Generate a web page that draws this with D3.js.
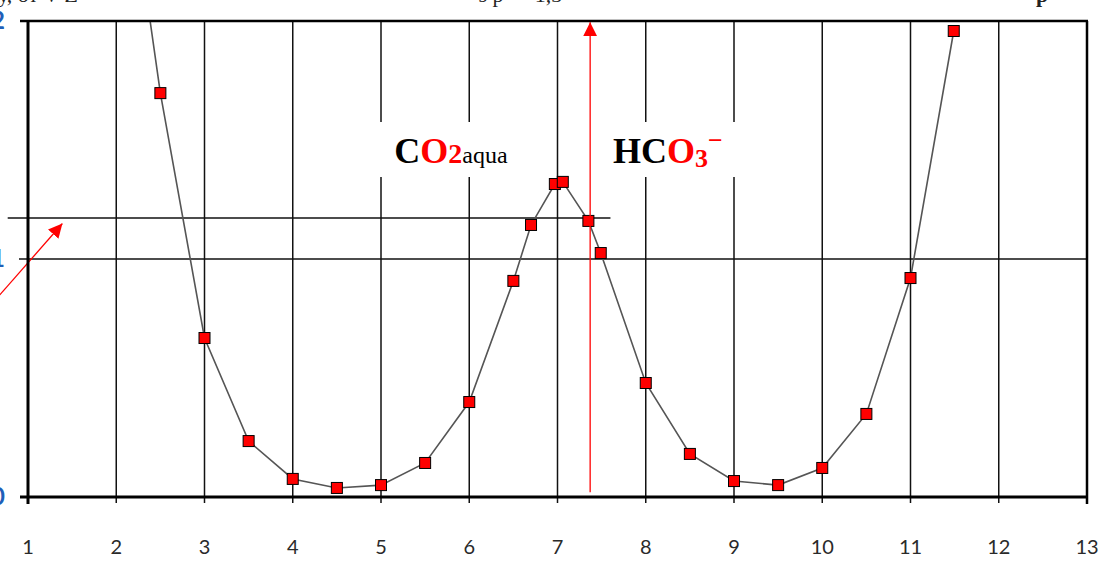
<!DOCTYPE html>
<html>
<head>
  <script src="https://d3js.org/d3.v7.min.js"></script>
  <style>
    body { margin: 0; background: #fff; overflow: hidden; }
    svg { display: block; }
  </style>
</head>
<body>
  <svg id="chart"></svg>
  <script>
    // pH values and relative amounts
    const phValues = [2, 2.5, 3, 3.5, 4, 4.5, 5, 5.5, 6, 6.5, 6.7, 6.97, 7.06, 7.35, 7.49, 8, 8.5, 9, 9.5, 10, 10.5, 11, 11.49]
    const amounts = [3.0, 1.697, 0.668, 0.235, 0.076, 0.038, 0.050, 0.143, 0.399, 0.908, 1.143, 1.315, 1.324, 1.16, 1.025, 0.479, 0.181, 0.067, 0.050, 0.122, 0.349, 0.920, 1.958]
    const xTicks = [1, 2, 3, 4, 5, 6, 7, 8, 9, 10, 11, 12, 13]
    const yTicks = [0, 1, 2]

    const svgwidth = 1106
    const svgheight = 562
    const svg = d3.select("#chart").attr("width", svgwidth).attr("height", svgheight)

    const margin = { top: 21, right: 19, bottom: 65, left: 28 }
    const width = svgwidth - margin.left - margin.right
    const height = svgheight - margin.top - margin.bottom

    const x = d3.scaleLinear().domain([1, 13]).range([margin.left, margin.left + width])
    const y = d3.scaleLinear().domain([0, 2]).range([margin.top + height, margin.top])

    // caption line above, mostly cut off by the top edge
    const cap = svg.append("g")
      .style("font-family", "'Liberation Serif', serif")
      .style("font-size", "22px")
      .attr("fill", "#222")
    cap.append("text").attr("x", -2).attr("y", 2).text("у, от   V   Z")
    cap.append("text").attr("x", 440).attr("y", 2).text("·  ·  ·  s  p  ·  ·  1,3 ·")
    cap.append("text").attr("x", 1036).attr("y", 2).style("font-weight", "bold").text("p")

    svg.append("clipPath").attr("id", "plotclip")
      .append("rect")
      .attr("x", margin.left).attr("y", margin.top)
      .attr("width", width).attr("height", height)

    // vertical grid lines
    svg.append("g")
      .selectAll("line")
      .data(xTicks.slice(1, -1))
      .join("line")
      .attr("x1", d => x(d)).attr("x2", d => x(d))
      .attr("y1", y(2)).attr("y2", y(0))
      .attr("stroke", "#111").attr("stroke-width", 1.5)

    // horizontal grid line at 1
    svg.append("line")
      .attr("x1", x(1) - 9).attr("x2", x(13))
      .attr("y1", y(1)).attr("y2", y(1))
      .attr("stroke", "#111").attr("stroke-width", 1.5)

    // tick marks below axis
    svg.append("g")
      .selectAll("line")
      .data(xTicks)
      .join("line")
      .attr("x1", d => x(d)).attr("x2", d => x(d))
      .attr("y1", y(0)).attr("y2", y(0) + 6)
      .attr("stroke", "#111").attr("stroke-width", 1.5)

    // white boxes behind the labels
    svg.append("rect")
      .attr("x", x(4.97)).attr("y", 122).attr("width", 140).attr("height", 55)
      .attr("fill", "#fff")
    svg.append("rect")
      .attr("x", x(7.52)).attr("y", 122).attr("width", 134).attr("height", 55)
      .attr("fill", "#fff")

    // extra reference line
    svg.append("line")
      .attr("x1", x(0.77)).attr("x2", x(7.6))
      .attr("y1", y(1.172)).attr("y2", y(1.172))
      .attr("stroke", "#111").attr("stroke-width", 1.5)

    const data = phValues.map((p, i) => ({ ph: p, v: amounts[i] }))

    const plot = svg.append("g").attr("clip-path", "url(#plotclip)")

    plot.append("path")
      .datum(data)
      .attr("fill", "none")
      .attr("stroke", "#555")
      .attr("stroke-width", 1.6)
      .attr("d", d3.line().x(d => x(d.ph)).y(d => y(d.v)))

    const ms = 11
    plot.selectAll("rect.mark")
      .data(data)
      .join("rect")
      .attr("class", "mark")
      .attr("x", d => x(d.ph) - ms / 2)
      .attr("y", d => y(d.v) - ms / 2)
      .attr("width", ms).attr("height", ms)
      .attr("fill", "#ff0000")
      .attr("stroke", "#000").attr("stroke-width", 1)

    // red arrows
    const defs = svg.append("defs")
    defs.append("marker")
      .attr("id", "arrow")
      .attr("viewBox", "0 0 10 10")
      .attr("refX", 10).attr("refY", 5)
      .attr("markerWidth", 14).attr("markerHeight", 14)
      .attr("markerUnits", "userSpaceOnUse")
      .attr("orient", "auto")
      .append("path")
      .attr("d", "M0,0 L10,5 L0,10 Z")
      .attr("fill", "#ff0000")

    svg.append("line")
      .attr("x1", x(7.37)).attr("x2", x(7.37))
      .attr("y1", y(0.02)).attr("y2", y(1.995))
      .attr("stroke", "#ff0000").attr("stroke-width", 1.3)
      .attr("marker-end", "url(#arrow)")

    svg.append("line")
      .attr("x1", x(0.68)).attr("x2", x(1.39))
      .attr("y1", y(0.849)).attr("y2", y(1.149))
      .attr("stroke", "#ff0000").attr("stroke-width", 1.3)
      .attr("marker-end", "url(#arrow)")

    // plot border
    svg.append("line")
      .attr("x1", x(1)).attr("x2", x(1)).attr("y1", y(2) - 1).attr("y2", y(0) + 7)
      .attr("stroke", "#000").attr("stroke-width", 3)
    svg.append("line")
      .attr("x1", x(1) - 8).attr("x2", x(13) + 1).attr("y1", y(0)).attr("y2", y(0))
      .attr("stroke", "#000").attr("stroke-width", 3)
    svg.append("line")
      .attr("x1", x(1) - 8).attr("x2", x(13) + 1).attr("y1", y(2)).attr("y2", y(2))
      .attr("stroke", "#000").attr("stroke-width", 2.5)
    svg.append("line")
      .attr("x1", x(13)).attr("x2", x(13)).attr("y1", y(2)).attr("y2", y(0) + 7)
      .attr("stroke", "#000").attr("stroke-width", 2.5)

    // axis labels
    svg.append("g")
      .selectAll("text")
      .data(xTicks)
      .join("text")
      .attr("x", d => x(d))
      .attr("y", y(0) + 57)
      .attr("text-anchor", "middle")
      .style("font-family", "Lato, 'Open Sans', sans-serif")
      .style("font-size", "20px")
      .attr("fill", "#2a2a2a")
      .text(d => d)

    svg.append("g")
      .selectAll("text")
      .data(yTicks)
      .join("text")
      .attr("x", 5)
      .attr("y", d => y(d) + 8)
      .attr("text-anchor", "end")
      .style("font-family", "Lato, 'Open Sans', sans-serif")
      .style("font-size", "24px")
      .style("font-weight", "bold")
      .attr("fill", "#1f5fb8")
      .text(d => d)

    // species labels
    const lab1 = svg.append("text")
      .attr("x", x(5.15)).attr("y", 163)
      .style("font-family", "'Liberation Serif', serif")
      .style("font-weight", "bold")
      .style("font-size", "36px")
    lab1.append("tspan").attr("fill", "#000").text("C")
    lab1.append("tspan").attr("fill", "#ff0000").text("O")
    lab1.append("tspan").attr("fill", "#ff0000").style("font-size", "28px").text("2")
    lab1.append("tspan").attr("fill", "#000").style("font-weight", "normal").style("font-size", "24px").text("aqua")

    const lab2 = svg.append("text")
      .attr("x", x(7.63)).attr("y", 163)
      .style("font-family", "'Liberation Serif', serif")
      .style("font-weight", "bold")
      .style("font-size", "36px")
    lab2.append("tspan").attr("fill", "#000").text("HC")
    lab2.append("tspan").attr("fill", "#ff0000").text("O")
    lab2.append("tspan").attr("fill", "#ff0000").style("font-size", "26px").attr("dy", 4).text("3")
    lab2.append("tspan").attr("fill", "#ff0000").style("font-size", "26px").attr("dy", -18).text("\u2212")
  </script>
</body>
</html>
